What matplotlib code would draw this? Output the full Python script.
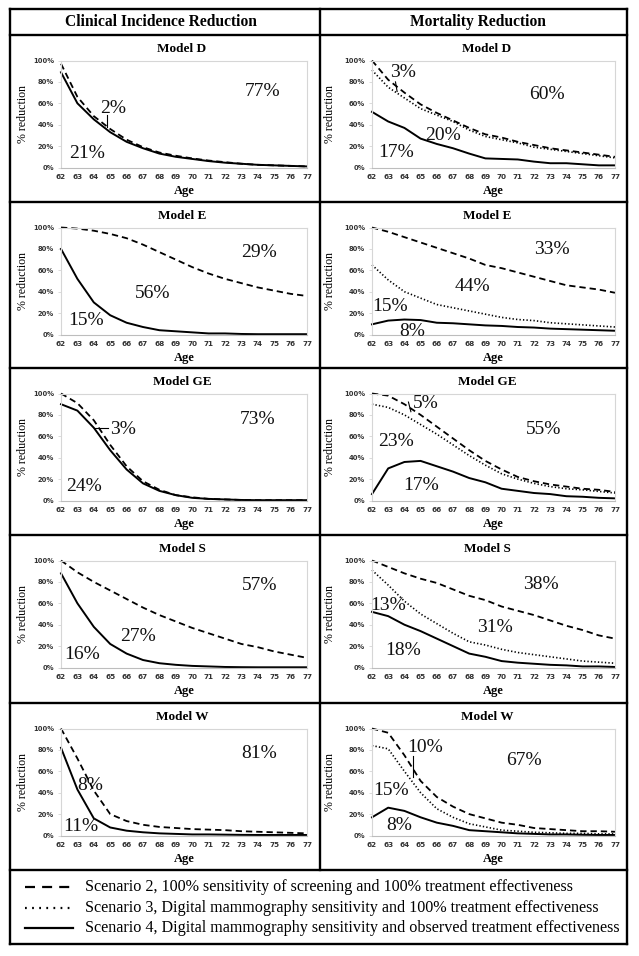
import matplotlib
matplotlib.use("Agg")
import matplotlib.pyplot as plt

W, H, DPI = 639, 956, 100

ages = list(range(62, 78))
age_labels = [str(a) for a in ages]
yticks = [0, 20, 40, 60, 80, 100]
ytick_labels = ['0%', '20%', '40%', '60%', '80%', '100%']
models = ['Model D', 'Model E', 'Model GE', 'Model S', 'Model W']
col_titles = ['Clinical Incidence Reduction', 'Mortality Reduction']
legend_labels = [
    'Scenario 2, 100% sensitivity of screening and 100% treatment effectiveness',
    'Scenario 3, Digital mammography sensitivity and 100% treatment effectiveness',
    'Scenario 4, Digital mammography sensitivity and observed treatment effectiveness',
]

# ---- Clinical incidence reduction (%) ----
inc_D_s2 = [97, 66, 48, 36, 26, 19, 14, 11, 8.5, 6.5, 5, 3.5, 2.5, 2, 1.5, 1]
inc_D_s4 = [89, 60, 45, 33, 24, 18, 13, 10, 8, 6, 4.5, 3.5, 2.5, 2, 1.5, 1]
inc_E_s2 = [100, 99, 97, 94, 90, 84, 77, 70, 63, 57, 52, 48, 44, 41, 38, 36]
inc_E_s4 = [80, 52, 30, 18, 11, 7, 4, 3, 2, 1, 1, 0.5, 0.3, 0.3, 0.3, 0.3]
inc_GE_s2 = [100, 91, 75, 52, 32, 18, 10, 5, 3, 1.5, 1, 0.5, 0.3, 0.3, 0.3, 0.3]
inc_GE_s4 = [90, 84, 68, 47, 29, 16, 9, 5, 2.5, 1.5, 1, 0.5, 0.3, 0.3, 0.3, 0.3]
inc_S_s2 = [100, 89, 80, 72, 64, 56, 49, 43, 37, 32, 27, 22, 19, 15, 12, 9]
inc_S_s4 = [88, 60, 38, 22, 13, 7, 4, 2.5, 1.5, 1, 0.5, 0.3, 0.2, 0.2, 0.2, 0.2]
inc_W_s2 = [100, 72, 42, 20, 13.5, 10, 8, 7, 6, 5.5, 5, 4, 3.5, 3, 2.5, 2]
inc_W_s4 = [82, 43, 16, 7.5, 4.5, 3, 2, 1.5, 1, 1, 0.8, 0.6, 0.5, 0.5, 0.5, 0.5]

# ---- Mortality reduction (%) ----
mor_D_s2 = [100, 82, 70, 59, 51, 44, 37, 31, 28, 24, 21, 18, 16, 14, 12, 10]
mor_D_s3 = [91, 75, 65, 55, 49, 43, 35, 29, 26, 23, 19, 17, 15, 13, 11, 9]
mor_D_s4 = [52, 43, 37, 27, 22, 18, 13, 8.5, 8, 7.5, 5.5, 4, 4, 3, 2, 2]
mor_E_s2 = [100, 96, 91, 86, 81, 76, 71, 65, 62, 58, 54, 50, 46, 44, 42, 39]
mor_E_s3 = [65, 51, 40, 34, 28, 25, 22, 19, 16, 14, 13, 11, 10, 9, 8, 7]
mor_E_s4 = [9.5, 13, 14, 13.5, 11, 10.5, 9.5, 8.5, 8, 7, 6.5, 5.5, 5, 4.5, 4, 3.5]
mor_GE_s2 = [100, 98, 90, 80, 69, 58, 47, 37, 29, 22, 18, 15, 13, 11, 10, 8]
mor_GE_s3 = [90, 87, 80, 71, 62, 52, 42, 33, 25, 20, 16, 13, 11, 10, 8.5, 7]
mor_GE_s4 = [6, 30, 36, 37, 32, 27, 21, 17, 11, 9, 7, 6, 4, 3.5, 2.5, 2]
mor_S_s2 = [100, 94, 88, 83, 79, 73, 67, 63, 57, 53, 49, 44, 39, 35, 30, 27]
mor_S_s3 = [91, 77, 62, 50, 41, 32, 24, 21, 17, 14, 12, 10, 8, 6, 5, 4]
mor_S_s4 = [52, 48, 40, 34, 27, 20, 13, 10, 6, 4.5, 3.5, 2.5, 2, 1, 1, 0.5]
mor_W_s2 = [100, 96, 75, 51, 36, 27, 20, 16, 12, 10, 7, 6, 5, 4, 4, 3.5]
mor_W_s3 = [84, 81, 60, 40, 25, 17, 11, 8, 5, 4, 3, 2.5, 2, 2, 1.5, 1.5]
mor_W_s4 = [17, 26, 23, 17, 12, 9, 5, 4, 3, 2, 1.5, 1, 1, 0.7, 0.5, 0.5]

incidence = [(inc_D_s2, None, inc_D_s4), (inc_E_s2, None, inc_E_s4),
             (inc_GE_s2, None, inc_GE_s4), (inc_S_s2, None, inc_S_s4),
             (inc_W_s2, None, inc_W_s4)]
mortality = [(mor_D_s2, mor_D_s3, mor_D_s4), (mor_E_s2, mor_E_s3, mor_E_s4),
             (mor_GE_s2, mor_GE_s3, mor_GE_s4), (mor_S_s2, mor_S_s3, mor_S_s4),
             (mor_W_s2, mor_W_s3, mor_W_s4)]

# annotation labels (text, x age, y %) per panel
inc_notes = [
    [('2%', 65.2, 55), ('77%', 74.3, 71), ('21%', 63.6, 13)],
    [('29%', 74.1, 77), ('56%', 67.6, 38), ('15%', 63.5, 13)],
    [('3%', 65.8, 66), ('73%', 74.0, 76), ('24%', 63.4, 13)],
    [('57%', 74.1, 77), ('27%', 66.7, 29), ('16%', 63.3, 12)],
    [('81%', 74.1, 77), ('8%', 63.8, 47), ('11%', 63.2, 8)],
]
mor_notes = [
    [('3%', 63.9, 89), ('60%', 72.8, 68), ('20%', 66.4, 30), ('17%', 63.5, 14)],
    [('33%', 73.1, 79), ('44%', 68.2, 45), ('15%', 63.1, 26), ('8%', 64.5, 3)],
    [('5%', 65.3, 91), ('55%', 72.6, 66), ('23%', 63.5, 55), ('17%', 65.0, 14)],
    [('38%', 72.4, 78), ('31%', 69.6, 37), ('13%', 63.0, 58), ('18%', 63.9, 16)],
    [('10%', 65.3, 82), ('67%', 71.4, 70), ('15%', 63.2, 42), ('8%', 63.7, 9)],
]
# small leader marks ((x1, x2), (y1, y2))
inc_marks = [[((64.8, 64.8), (49, 38))], [], [((64.0, 64.85), (68, 68))], [], []]
mor_marks = [[((63.45, 63.55), (80, 71))], [], [((64.25, 64.4), (92, 83))], [],
             [((64.5, 64.5), (74, 55))]]

SERIF = 'Liberation Serif'
SANS = 'DejaVu Sans'

fig = plt.figure(figsize=(W / DPI, H / DPI), dpi=DPI)
bg = fig.add_axes([0, 0, 1, 1])
bg.set_xlim(0, W)
bg.set_ylim(H, 0)
bg.axis('off')

# table borders
blw = 1.7
L, R, TOP, BOT = 10, 627, 9, 944
row_tops = [35, 202, 368, 535, 703]
legend_top = 870
for y in [TOP, 35, 202, 368, 535, 703, legend_top, BOT]:
    bg.plot([L, R], [y, y], color='black', lw=blw, solid_capstyle='projecting')
bg.plot([L, L], [TOP, BOT], color='black', lw=blw, solid_capstyle='projecting')
bg.plot([R, R], [TOP, BOT], color='black', lw=blw, solid_capstyle='projecting')
bg.plot([320, 320], [TOP, legend_top], color='black', lw=blw)

bg.text(161, 22, col_titles[0], family=SERIF, fontweight='bold', fontsize=11.2,
        ha='center', va='center')
bg.text(478, 22, col_titles[1], family=SERIF, fontweight='bold', fontsize=11.2,
        ha='center', va='center')

styles = [dict(linestyle=(0, (3.5, 2.2)), lw=1.3),
          dict(linestyle=(0, (0.8, 1.3)), lw=1.2),
          dict(linestyle='-', lw=1.4)]
legend_styles = [dict(linestyle=(0, (4.5, 3.2)), lw=1.6),
                 dict(linestyle=(0, (0.8, 2.4)), lw=1.6),
                 dict(linestyle='-', lw=1.6)]

cols = [(61, 307, 182, 23, incidence, inc_notes, inc_marks),
        (372, 615, 487, 330, mortality, mor_notes, mor_marks)]

for (x0, x1, xc, ylab_x, data, notes, marks) in cols:
    for r, T in enumerate(row_tops):
        ytop = T + 25.5
        ybot = T + 132.5
        ax = fig.add_axes([x0 / W, 1 - ybot / H, (x1 - x0) / W, (ybot - ytop) / H])
        ax.set_facecolor('none')
        ax.set_xlim(62, 77)
        ax.set_ylim(0, 100)
        for sp in ax.spines.values():
            sp.set_color('#d6d6d6')
            sp.set_linewidth(0.8)
        ax.spines['bottom'].set_color('#bdbdbd')
        ax.set_xticks(ages)
        ax.set_xticklabels(age_labels, family=SANS, fontweight='bold',
                           fontsize=5.2, color='#333333')
        ax.set_yticks(yticks)
        ax.set_yticklabels(ytick_labels, family=SANS, fontweight='bold',
                           fontsize=4.9, color='#333333')
        ax.tick_params(axis='x', length=0, pad=5)
        ax.tick_params(axis='y', length=2, width=0.6, color='#d6d6d6', pad=3)
        for series, st in zip(data[r], styles):
            if series is None:
                continue
            ax.plot(ages, series, color='black', clip_on=False,
                    dash_capstyle='butt', **st)
        for (txt, xx, yy) in notes[r]:
            ax.text(xx, yy, txt, family=SERIF, fontsize=14, ha='center',
                    va='center', color='#111111')
        for (xs, ys) in marks[r]:
            ax.plot(xs, ys, color='black', lw=0.8, clip_on=False)
        bg.text(xc, T + 14, models[r], family=SERIF, fontweight='bold',
                fontsize=9.5, ha='center', va='center')
        bg.text((x0 + x1) / 2, T + 156, 'Age', family=SERIF, fontweight='bold',
                fontsize=9, ha='center', va='center')
        bg.text(ylab_x, (ytop + ybot) / 2, '% reduction', family=SERIF,
                fontsize=8.6, rotation=90, ha='center', va='center')

# legend
leg_y = [887, 908, 928]
for st, y, lab in zip(legend_styles, leg_y, legend_labels):
    bg.plot([25, 73], [y, y], color='black', dash_capstyle='butt', **st)
    bg.text(85, y, lab, family=SERIF, fontsize=11.6, ha='left', va='center')

fig.savefig('out.png', dpi=DPI)
